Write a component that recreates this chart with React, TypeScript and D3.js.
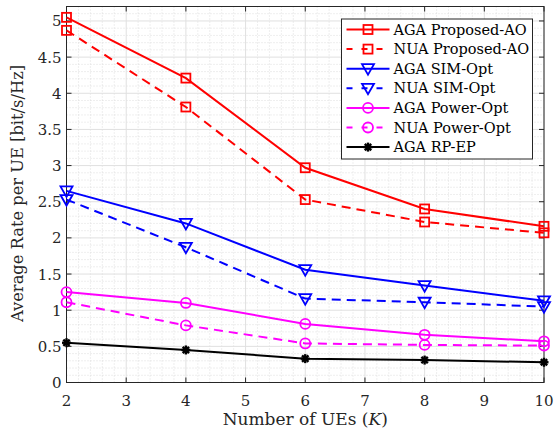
import React from "react";
import * as d3 from "d3";

// Number of UEs
const numUEs = [2, 4, 6, 8, 10];

// Average rate per UE for each scheme (bit/s/Hz)
const agaProposed = [5.05, 4.21, 2.97, 2.4, 2.16];
const nuaProposed = [4.87, 3.81, 2.53, 2.22, 2.07];
const agaSim = [2.65, 2.2, 1.56, 1.34, 1.13];
const nuaSim = [2.53, 1.87, 1.16, 1.11, 1.05];
const agaPower = [1.25, 1.1, 0.81, 0.66, 0.57];
const nuaPower = [1.11, 0.79, 0.54, 0.52, 0.51];
const agaRpEp = [0.55, 0.45, 0.33, 0.31, 0.28];

const seriesNames = [
  "AGA Proposed-AO",
  "NUA Proposed-AO",
  "AGA SIM-Opt",
  "NUA SIM-Opt",
  "AGA Power-Opt",
  "NUA Power-Opt",
  "AGA RP-EP",
];

const xTicks = [2, 3, 4, 5, 6, 7, 8, 9, 10];
const yTicks = [0, 0.5, 1, 1.5, 2, 2.5, 3, 3.5, 4, 4.5, 5];

type Marker = "square" | "triangle" | "circle" | "star";

const series = [
  { name: seriesNames[0], values: agaProposed, color: "#ff0000", dashed: false, marker: "square" as Marker },
  { name: seriesNames[1], values: nuaProposed, color: "#ff0000", dashed: true, marker: "square" as Marker },
  { name: seriesNames[2], values: agaSim, color: "#0000ff", dashed: false, marker: "triangle" as Marker },
  { name: seriesNames[3], values: nuaSim, color: "#0000ff", dashed: true, marker: "triangle" as Marker },
  { name: seriesNames[4], values: agaPower, color: "#ff00ff", dashed: false, marker: "circle" as Marker },
  { name: seriesNames[5], values: nuaPower, color: "#ff00ff", dashed: true, marker: "circle" as Marker },
  { name: seriesNames[6], values: agaRpEp, color: "#000000", dashed: false, marker: "star" as Marker },
];

const FONT = "DejaVu Serif";

const MarkerShape = ({ type, x, y, color }: { type: Marker; x: number; y: number; color: string }) => {
  if (type === "square") {
    return <rect x={x - 4.5} y={y - 4.5} width={9} height={9} fill="none" stroke={color} strokeWidth={1.8} />;
  }
  if (type === "triangle") {
    return (
      <path
        d={`M${x - 6},${y - 4.5}L${x + 6},${y - 4.5}L${x},${y + 6}Z`}
        fill="none"
        stroke={color}
        strokeWidth={1.8}
      />
    );
  }
  if (type === "circle") {
    return <circle cx={x} cy={y} r={5} fill="none" stroke={color} strokeWidth={1.8} />;
  }
  // asterisk-like filled star
  const r = 4.5;
  return (
    <g stroke={color} strokeWidth={2.4}>
      {[0, 45, 90, 135].map((a) => {
        const rad = (a * Math.PI) / 180;
        return (
          <line
            key={a}
            x1={x - r * Math.cos(rad)}
            y1={y - r * Math.sin(rad)}
            x2={x + r * Math.cos(rad)}
            y2={y + r * Math.sin(rad)}
          />
        );
      })}
      <circle cx={x} cy={y} r={2.5} fill={color} stroke="none" />
    </g>
  );
};

export default function App() {
  const width = 554,
    height = 431;
  const left = 66.5,
    right = 544,
    top = 6.5,
    bottom = 382.5;

  const x = d3.scaleLinear().domain([2, 10]).range([left, right]);
  const y = d3.scaleLinear().domain([0, 5.2]).range([bottom, top]);

  const line = d3
    .line<number>()
    .x((d, i) => x(numUEs[i]))
    .y((d) => y(d));

  const xMinor = d3.range(2, 10.001, 0.2).filter((v) => Math.abs(v - Math.round(v)) > 0.01);
  const yMinor = d3.range(0, 5.2001, 0.1).filter((v) => Math.abs(v * 2 - Math.round(v * 2)) > 0.01);

  const legX = 341.5,
    legY = 19,
    legW = 191,
    legH = 140,
    rowH = 19.6;

  return (
    <svg width={width} height={height} style={{ position: "absolute", left: 0, top: 0, background: "#fff" }}>
      <rect x={0} y={0} width={width} height={height} fill="#fff" />
      {/* minor grid */}
      <g stroke="#d6d6d6" strokeWidth={0.8} strokeDasharray="1,2">
        {xMinor.map((v) => (
          <line key={"xm" + v} x1={x(v)} x2={x(v)} y1={top} y2={bottom} />
        ))}
        {yMinor.map((v) => (
          <line key={"ym" + v} x1={left} x2={right} y1={y(v)} y2={y(v)} />
        ))}
      </g>
      {/* major grid */}
      <g stroke="#e0e0e0" strokeWidth={1}>
        {xTicks.map((v) => (
          <line key={"xg" + v} x1={x(v)} x2={x(v)} y1={top} y2={bottom} />
        ))}
        {yTicks.map((v) => (
          <line key={"yg" + v} x1={left} x2={right} y1={y(v)} y2={y(v)} />
        ))}
      </g>
      {/* axes box and ticks */}
      <g stroke="#262626" strokeWidth={1}>
        <rect x={left} y={top} width={right - left} height={bottom - top} fill="none" />
        {xTicks.map((v) => (
          <g key={"xt" + v}>
            <line x1={x(v)} x2={x(v)} y1={bottom} y2={bottom - 5} />
            <line x1={x(v)} x2={x(v)} y1={top} y2={top + 5} />
          </g>
        ))}
        {yTicks.map((v) => (
          <g key={"yt" + v}>
            <line x1={left} x2={left + 5} y1={y(v)} y2={y(v)} />
            <line x1={right} x2={right - 5} y1={y(v)} y2={y(v)} />
          </g>
        ))}
      </g>
      {/* tick labels */}
      <g fontFamily={FONT} fontSize={15} fill="#262626">
        {xTicks.map((v) => (
          <text key={"xl" + v} x={x(v)} y={bottom + 23} textAnchor="middle">
            {v}
          </text>
        ))}
        {yTicks.map((v) => (
          <text key={"yl" + v} x={left - 5} y={y(v) + 5.5} textAnchor="end">
            {v}
          </text>
        ))}
      </g>
      {/* axis labels */}
      <text x={(left + right) / 2} y={425} textAnchor="middle" fontFamily={FONT} fontSize={17} fill="#262626">
        Number of UEs (<tspan fontStyle="italic">K</tspan>)
      </text>
      <text
        transform={`translate(23,${(top + bottom) / 2 - 1}) rotate(-90)`}
        textAnchor="middle"
        fontFamily={FONT}
        fontSize={16.3}
        fill="#262626"
      >
        Average Rate per UE [bit/s/Hz]
      </text>
      {/* series */}
      {series.map((s) => (
        <g key={s.name}>
          <path
            d={line(s.values) || ""}
            fill="none"
            stroke={s.color}
            strokeWidth={2}
            strokeDasharray={s.dashed ? "9,6" : undefined}
          />
          {s.values.map((v, i) => (
            <MarkerShape key={i} type={s.marker} x={x(numUEs[i])} y={y(v)} color={s.color} />
          ))}
        </g>
      ))}
      {/* legend */}
      <rect x={legX} y={legY} width={legW} height={legH} fill="#fff" stroke="#262626" strokeWidth={1} />
      {series.map((s, i) => {
        const cy = legY + 10.5 + i * rowH;
        return (
          <g key={"lg" + s.name}>
            <line
              x1={legX + 5}
              x2={legX + 48}
              y1={cy}
              y2={cy}
              stroke={s.color}
              strokeWidth={2}
              strokeDasharray={s.dashed ? "6,9" : undefined}
            />
            <MarkerShape type={s.marker} x={legX + 26.5} y={cy} color={s.color} />
            <text x={legX + 52} y={cy + 5} fontFamily={FONT} fontSize={14.5} fill="#000">
              {s.name}
            </text>
          </g>
        );
      })}
    </svg>
  );
}
